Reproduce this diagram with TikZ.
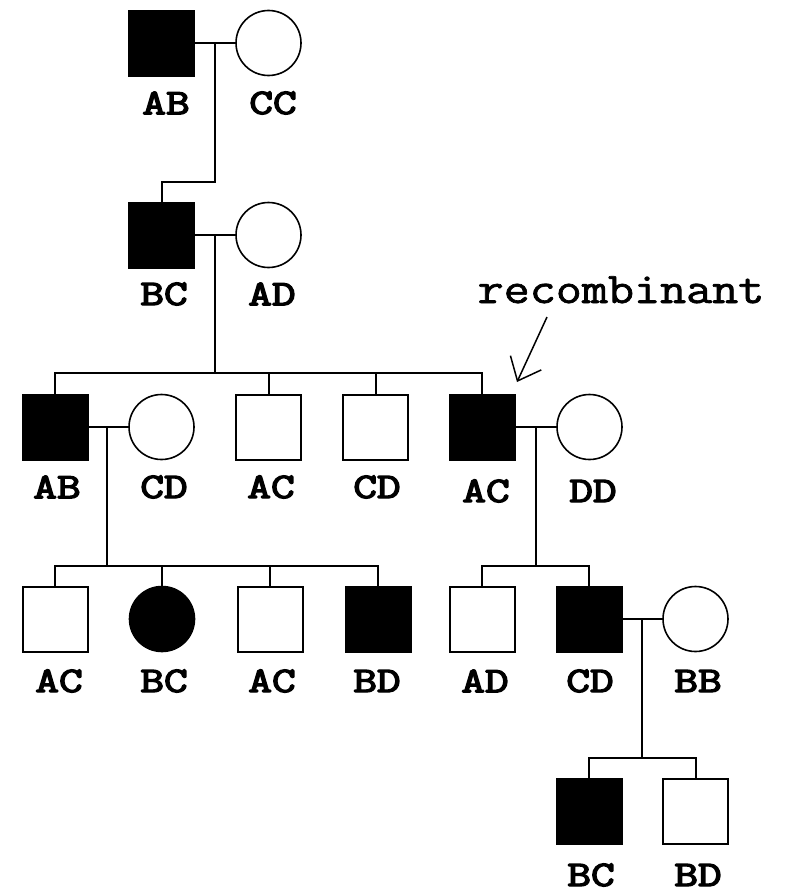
\documentclass[tikz,border=0pt]{standalone}
\usepackage{fontspec}
\newfontfamily\lblfont[FakeBold=3.5]{Latin Modern Mono}
\newfontfamily\recfont[FakeBold=1.5]{Latin Modern Mono}
\usetikzlibrary{arrows.meta}
\tikzset{
  male/.style={draw, line width=2pt, minimum size=65pt, inner sep=0pt, fill=white},
  female/.style={draw, circle, line width=1.6pt, minimum size=65pt, inner sep=0pt, fill=white},
  aff/.style={fill=black},
  lbl/.style={font=\lblfont\fontsize{40}{40}\selectfont, inner sep=0pt, anchor=center},
  link/.style={line width=2pt},
}
\newcommand{\gl}[1]{\scalebox{1.15}[0.9]{#1}}
\begin{document}
\begin{tikzpicture}[x=1pt,y=-1pt]
\useasboundingbox (0,0) rectangle (789,894);
% generation 1
\node[male,aff] (a1) at (161.5,43) {};
\node[female] (a2) at (268.5,43) {};
\node[lbl] (la1) at (166,103) {\gl{AB}};
\node[lbl] (la2) at (273,103) {\gl{CC}};
% generation 2
\node[male,aff] (b1) at (161.5,235) {};
\node[female] (b2) at (268.5,235) {};
\node[lbl] (lb1) at (164,294) {\gl{BC}};
\node[lbl] (lb2) at (272,294) {\gl{AD}};
% generation 3
\node[male,aff] (c1) at (55,427) {};
\node[female] (c2) at (161.5,427) {};
\node[male] (c3) at (268.5,427) {};
\node[male] (c4) at (375.5,427) {};
\node[male,aff] (c5) at (482,427) {};
\node[female] (c6) at (589.5,427) {};
\node[lbl] (lc1) at (57,487) {\gl{AB}};
\node[lbl] (lc2) at (164,487) {\gl{CD}};
\node[lbl] (lc3) at (271,487) {\gl{AC}};
\node[lbl] (lc4) at (377,487) {\gl{CD}};
\node[lbl] (lc5) at (486,491) {\gl{AC}};
\node[lbl] (lc6) at (593,491) {\gl{DD}};
% generation 4
\node[male] (d1) at (55,619) {};
\node[female,aff] (d2) at (162,619) {};
\node[male] (d3) at (270,619) {};
\node[male,aff] (d4) at (378,619) {};
\node[male] (d5) at (482,619) {};
\node[male,aff] (d6) at (589,619) {};
\node[female] (d7) at (695.5,619) {};
\node[lbl] (ld1) at (59,681) {\gl{AC}};
\node[lbl] (ld2) at (164,681) {\gl{BC}};
\node[lbl] (ld3) at (272,681) {\gl{AC}};
\node[lbl] (ld4) at (377,681) {\gl{BD}};
\node[lbl] (ld5) at (485,681) {\gl{AD}};
\node[lbl] (ld6) at (590,681) {\gl{CD}};
\node[lbl] (ld7) at (698,681) {\gl{BB}};
% generation 5
\node[male,aff] (e1) at (589,811.5) {};
\node[male] (e2) at (695.5,811.5) {};
\node[lbl] (le1) at (591,875) {\gl{BC}};
\node[lbl] (le2) at (698,875) {\gl{BD}};
% annotation
\node[font=\recfont\fontsize{46}{46}\selectfont, inner sep=0pt, anchor=base] (rec) at (621,303) {\scalebox{1.1}[0.95]{recombinant}};
\coordinate (rs) at (547,317);
\coordinate (rt) at (517,382);
\draw[line width=1.5pt, -{Straight Barb[length=20pt,width=34pt,line width=1.5pt]}] (rs) -- (rt);
% couple 1
\coordinate (m1) at (215,43);
\coordinate (j1) at (215,182);
\draw[link] (a1.east) -- (a2.west);
\draw[link] (m1) -- (j1) -| (b1.north);
% couple 2
\coordinate (m2) at (215,235);
\coordinate (s2) at (215,373);
\draw[link] (b1.east) -- (b2.west);
\draw[link] (m2) -- (s2);
\draw[link] (c1.north) -- (c1.north |- s2) -- (c5.north |- s2) -- (c5.north);
\draw[link] (c3.north) -- (c3.north |- s2);
\draw[link] (c4.north) -- (c4.north |- s2);
% couple 3
\coordinate (m3) at (107,427);
\coordinate (s3) at (107,566);
\draw[link] (c1.east) -- (c2.west);
\draw[link] (m3) -- (s3);
\draw[link] (d1.north) -- (d1.north |- s3) -- (d4.north |- s3) -- (d4.north);
\draw[link] (d2.north) -- (d2.north |- s3);
\draw[link] (d3.north) -- (d3.north |- s3);
% couple 4
\coordinate (m4) at (536,427);
\coordinate (s4) at (536,566);
\draw[link] (c5.east) -- (c6.west);
\draw[link] (m4) -- (s4);
\draw[link] (d5.north) -- (d5.north |- s4) -- (d6.north |- s4) -- (d6.north);
% couple 5
\coordinate (m5) at (642,619);
\coordinate (s5) at (642,758);
\draw[link] (d6.east) -- (d7.west);
\draw[link] (m5) -- (s5);
\draw[link] (e1.north) -- (e1.north |- s5) -- (e2.north |- s5) -- (e2.north);
\end{tikzpicture}
\end{document}
